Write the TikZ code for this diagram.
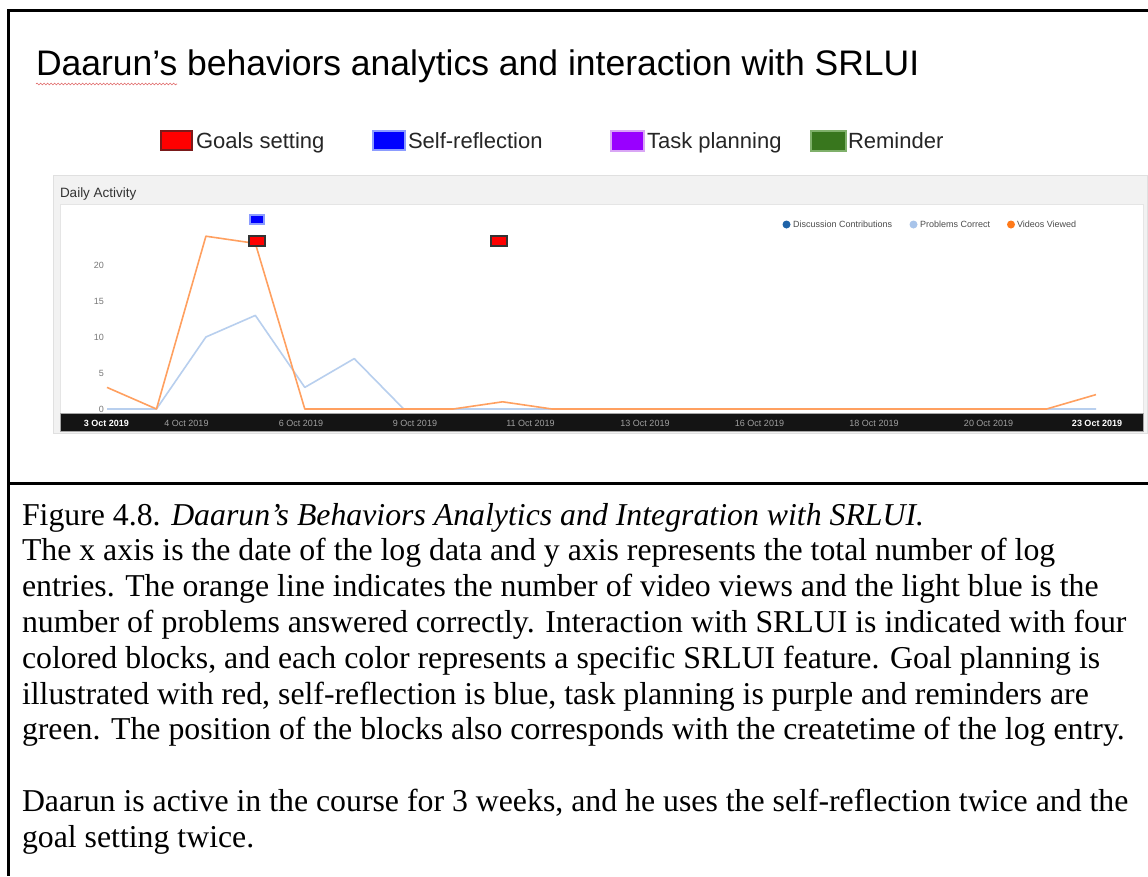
\documentclass[tikz,border=0pt]{standalone}
\usepackage{fontspec}
\setmainfont{Liberation Serif}
\newfontfamily\arialf{Liberation Sans}
\usetikzlibrary{decorations.pathmorphing}
\definecolor{panelgray}{HTML}{F2F2F2}
\definecolor{barblack}{HTML}{141414}
\definecolor{vidorange}{HTML}{FFA060}
\definecolor{probblue}{HTML}{B8CFEE}
\definecolor{discblue}{HTML}{1F63A8}
\definecolor{dotorange}{HTML}{FF7A1A}
\definecolor{dotlblue}{HTML}{A8C4EA}
\definecolor{axisgray}{HTML}{777777}
\definecolor{dategray}{HTML}{A0A0A0}
\definecolor{lgred}{HTML}{FF0000}
\definecolor{lgredb}{HTML}{7A1A1A}
\definecolor{lgblue}{HTML}{0000FF}
\definecolor{lgblueb}{HTML}{8C9CFF}
\definecolor{lgpurple}{HTML}{9900FF}
\definecolor{lgpurpleb}{HTML}{D9A6F5}
\definecolor{lggreen}{HTML}{38761D}
\definecolor{lggreenb}{HTML}{7FB06A}
\definecolor{spellred}{HTML}{E06666}
\begin{document}
\begin{tikzpicture}[x=1pt,y=-1pt,
  txt/.style={inner sep=0pt,outer sep=0pt,anchor=base west},
  captxt/.style={txt,font=\fontsize{31.8}{35.8}\selectfont},
  lgtxt/.style={txt,font=\arialf\fontsize{22}{26}\selectfont,text=black!85},
  ylab/.style={inner sep=0pt,anchor=east,font=\arialf\fontsize{9}{10}\selectfont,text=axisgray},
  datelab/.style={inner sep=0pt,anchor=center,font=\arialf\fontsize{9}{10}\selectfont,text=dategray},
  dateend/.style={datelab,font=\arialf\bfseries\fontsize{9}{10}\selectfont,text=white},
  cltxt/.style={txt,font=\arialf\fontsize{9}{10}\selectfont,text=black!70},
  lgbox/.style={line width=1.5pt}
]
\useasboundingbox (0,0) rectangle (1148,876);
\fill[white] (0,0) rectangle (1148,876);

% table borders
\draw[line width=3pt] (7,10.5) -- (1148,10.5);
\draw[line width=3pt] (8.5,9) -- (8.5,876);
\draw[line width=3pt] (7,483) -- (1148,483);

% title
\node[txt,font=\arialf\fontsize{35.5}{40}\selectfont] (title) at (36,75)
  {Daarun’s behaviors analytics and interaction with SRLUI};
\draw[spellred,line width=0.6pt,decorate,decoration={snake,segment length=3.5pt,amplitude=0.9pt}]
  (36,84) -- (177,84);

% legend
\draw[lgbox,fill=lgred,draw=lgredb] (161,131) rectangle (192,150);
\node[lgtxt] (lgoal) at (196,148.5) {Goals setting};
\draw[lgbox,fill=lgblue,draw=lgblueb] (373,131) rectangle (405,150);
\node[lgtxt] (lself) at (408,148.5) {Self-reflection};
\draw[lgbox,fill=lgpurple,draw=lgpurpleb] (611,131) rectangle (644,151);
\node[lgtxt] (ltask) at (647,148.5) {Task planning};
\draw[lgbox,fill=lggreen,draw=lggreenb] (811,131) rectangle (846,151);
\node[lgtxt] (lrem) at (848,148.5) {Reminder};

% chart panel
\fill[panelgray] (53,175) rectangle (1147,433);
\draw[black!12,line width=0.6pt] (53,175) rectangle (1147,433);
\node[txt,font=\arialf\fontsize{13.5}{15}\selectfont,text=black!80] (daily) at (60,197) {Daily Activity};
\fill[white] (60,204) rectangle (1143,413);
\draw[black!10,line width=0.5pt] (60,204) rectangle (1143,413);

% y labels
\node[ylab] (y20) at (104,265) {20};
\node[ylab] (y15) at (104,301) {15};
\node[ylab] (y10) at (104,337) {10};
\node[ylab] (y5) at (104,373) {5};
\node[ylab] (y0) at (104,409) {0};

% data lines: x = 107 + 49.45 i, y = 409 - 7.2 v
\draw[probblue,line width=1.6pt,line join=round]
  plot coordinates {(107,409) (156.45,409) (205.9,337) (255.35,315.4) (304.8,387.4) (354.25,358.6) (403.7,409) (1096,409)};
\draw[vidorange,line width=1.6pt,line join=round]
  plot coordinates {(107,387.4) (156.45,409) (205.9,236.2) (255.35,243.4) (304.8,409) (453.15,409) (502.6,401.8) (552.05,409) (1046.55,409) (1096,394.6)};

% SRLUI blocks in the chart
\draw[line width=1.5pt,fill=lgblue,draw=lgblueb] (250,215) rectangle (264,224);
\draw[line width=2pt,fill=lgred,draw=black!80] (249,236) rectangle (265,246);
\draw[line width=2pt,fill=lgred,draw=black!80] (491,236) rectangle (507,246);

% chart legend
\fill[discblue] (786.5,224.5) circle (4);
\node[cltxt] (cdisc) at (793,227.8) {Discussion Contributions};
\fill[dotlblue] (913.5,224.5) circle (4);
\node[cltxt] (cprob) at (920,227.8) {Problems Correct};
\fill[dotorange] (1011,224.5) circle (4);
\node[cltxt] (cvid) at (1017,227.8) {Videos Viewed};

% date bar
\fill[barblack] (60,413.5) rectangle (1143,431);
\draw[black!35,line width=0.6pt] (60,413.5) rectangle (1143,431);
\node[dateend] (d3) at (106.5,423) {3 Oct 2019};
\node[datelab] (d4) at (186.5,423) {4 Oct 2019};
\node[datelab] (d6) at (301,423) {6 Oct 2019};
\node[datelab] (d9) at (415,423) {9 Oct 2019};
\node[datelab] (d11) at (530.5,423) {11 Oct 2019};
\node[datelab] (d13) at (645,423) {13 Oct 2019};
\node[datelab] (d16) at (759.5,423) {16 Oct 2019};
\node[datelab] (d18) at (874,423) {18 Oct 2019};
\node[datelab] (d20) at (988.5,423) {20 Oct 2019};
\node[dateend] (d23) at (1097,423) {23 Oct 2019};

% caption
\node[captxt] (c1) at (22,525) {Figure 4.8. \textit{Daarun’s Behaviors Analytics and Integration with SRLUI.}};
\node[captxt] (c2) at (22,560.8) {The x axis is the date of the log data and y axis represents the total number of log};
\node[captxt] (c3) at (22,596.6) {entries. The orange line indicates the number of video views and the light blue is the};
\node[captxt] (c4) at (22,632.4) {number of problems answered correctly. Interaction with SRLUI is indicated with four};
\node[captxt] (c5) at (22,668.2) {colored blocks, and each color represents a specific SRLUI feature. Goal planning is};
\node[captxt] (c6) at (22,704) {illustrated with red, self-reflection is blue, task planning is purple and reminders are};
\node[captxt] (c7) at (22,739.8) {green. The position of the blocks also corresponds with the createtime of the log entry.};
\node[captxt] (c9) at (22,811.4) {Daarun is active in the course for 3 weeks, and he uses the self-reflection twice and the};
\node[captxt] (c10) at (22,847.2) {goal setting twice.};
\end{tikzpicture}
\end{document}
